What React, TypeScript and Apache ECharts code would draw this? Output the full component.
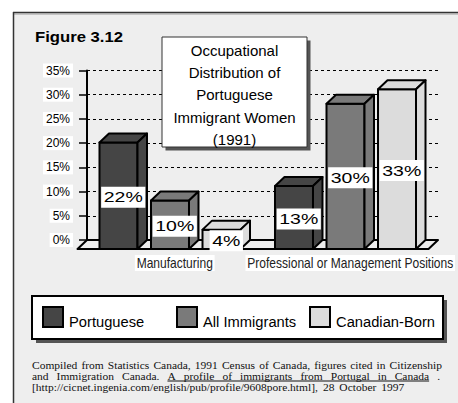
import React, { useEffect, useRef } from "react";
import * as echarts from "echarts";

const categories = ["Manufacturing", "Professional or Management Positions"];
const seriesNames = ["Portuguese", "All Immigrants", "Canadian-Born"];
const portuguese = [22, 13];
const allImmigrants = [10, 30];
const canadianBorn = [4, 33];
const seriesValues = [portuguese, allImmigrants, canadianBorn];
const seriesColors = ["#454545", "#7a7a7a", "#dcdcdc"];
const yMin = 0;
const yMax = 35;
const yStep = 5;
const figureLabel = "Figure 3.12";
const titleLines = ["Occupational", "Distribution of", "Portuguese", "Immigrant Women", "(1991)"];
const footLine1 = "Compiled from Statistics Canada, 1991 Census of Canada, figures cited in Citizenship";
const footLine2a = "and Immigration Canada.";
const footLine2b = "A profile of immigrants from Portugal in Canada";
const footLine2c = ".";
const footLine3 = "[http://cicnet.ingenia.com/english/pub/profile/9608pore.html], 28 October 1997";

const DX = 9.5;
const DY = 9;
const SERIF = '"Liberation Serif", "Times New Roman", serif';
const SANS = '"Liberation Sans", Arial, Helvetica, sans-serif';
const FOOT_SIZE = 10;
const FOOT_SCALE = 1.15;

function measure(text: string, size: number): number {
  const ns = "http://www.w3.org/2000/svg";
  const svg = document.createElementNS(ns, "svg");
  svg.setAttribute("width", "1000");
  svg.setAttribute("height", "50");
  svg.style.position = "absolute";
  svg.style.left = "0px";
  svg.style.top = "0px";
  svg.style.visibility = "hidden";
  const t = document.createElementNS(ns, "text");
  t.setAttribute("x", "0");
  t.setAttribute("y", "20");
  t.setAttribute("style", "font-family:" + SERIF + ";font-size:" + size + "px");
  t.textContent = text;
  svg.appendChild(t);
  document.body.appendChild(svg);
  let w = 0;
  try {
    w = (t as any).getComputedTextLength();
  } catch (e) {
    w = text.length * size * 0.42;
  }
  document.body.removeChild(svg);
  if (!(w > 0)) w = text.length * size * 0.42;
  return w;
}

// place words of a line justified between x0 and x1 (x1 = null keeps natural word spacing)
function justify(words: string[], x0: number, x1: number | null, y: number) {
  const widths = words.map((w) => measure(w, FOOT_SIZE) * FOOT_SCALE);
  const total = widths.reduce((a, b) => a + b, 0);
  const natural = measure(" ", FOOT_SIZE) * FOOT_SCALE;
  const gap = x1 === null || words.length < 2 ? natural : (x1 - x0 - total) / (words.length - 1);
  let x = x0;
  const els: any[] = [];
  const spans: [number, number][] = [];
  words.forEach((w, i) => {
    els.push({
      type: "text",
      z: 20,
      x,
      y,
      scaleX: FOOT_SCALE,
      style: {
        text: w,
        fontFamily: SERIF,
        fontSize: FOOT_SIZE,
        lineHeight: 10,
        fill: "#111",
        align: "left",
        verticalAlign: "middle",
      },
    });
    spans.push([x, x + widths[i]]);
    x += widths[i] + gap;
  });
  return { els, spans };
}

function barSeries(k: number) {
  return {
    type: "custom",
    name: seriesNames[k],
    z: 3,
    data: seriesValues[k].map((v, i) => [i, v]),
    encode: { x: 0, y: 1 },
    renderItem: (params: any, api: any) => {
      const cat = api.value(0);
      const v = api.value(1);
      const [cx, yv] = api.coord([cat, v]);
      const [, y0] = api.coord([cat, 0]);
      const band = api.size([1, 0])[0];
      const w = band * 0.2165;
      const step = band * 0.2935;
      const fcx = cx + (k - 1) * step - DX / 2;
      const fx = fcx - w / 2;
      const fy = yv + DY;
      const fb = y0 + DY;
      const color = seriesColors[k];
      const stroke = { fill: color, stroke: "#000", lineWidth: 2, lineJoin: "round" };
      return {
        type: "group",
        children: [
          { type: "rect", shape: { x: fx, y: fy, width: w, height: fb - fy }, style: stroke },
          {
            type: "polygon",
            shape: { points: [[fx, fy], [fx + w, fy], [fx + w + DX, fy - DY], [fx + DX, fy - DY]] },
            style: stroke,
          },
          {
            type: "polygon",
            shape: { points: [[fx + w, fy], [fx + w + DX, fy - DY], [fx + w + DX, fb - DY], [fx + w, fb]] },
            style: stroke,
          },
          {
            type: "text",
            x: fcx + DX / 2,
            y: (fy + fb) / 2 + 1.5,
            scaleX: 1.3,
            style: {
              text: v + "%",
              fontFamily: SANS,
              fontSize: 15,
              lineHeight: 15,
              fill: "#000",
              backgroundColor: "#fff",
              padding: [3, 2],
              align: "center",
              verticalAlign: "middle",
            },
          },
        ],
      };
    },
  };
}

const floorSeries = {
  type: "custom",
  name: "floor",
  z: 2,
  silent: true,
  data: [[0, 0]],
  encode: { x: 0, y: 1 },
  renderItem: (params: any) => {
    const cs = params.coordSys;
    const b = cs.y + cs.height;
    return {
      type: "polygon",
      shape: {
        points: [[cs.x, b], [cs.x + cs.width, b], [cs.x + cs.width - DX, b + DY], [cs.x - DX, b + DY]],
      },
      style: { fill: "#eeeeee", stroke: "#000", lineWidth: 2, lineJoin: "round" },
    };
  },
};

const categoryLabelSeries = {
  type: "custom",
  name: "categoryLabels",
  z: 4,
  silent: true,
  data: categories.map((c, i) => [i, 0]),
  encode: { x: 0, y: 1 },
  renderItem: (params: any, api: any) => {
    const i = api.value(0);
    const [cx, y0] = api.coord([i, 0]);
    return {
      type: "text",
      x: cx,
      y: y0 + 23,
      scaleX: 0.86,
      style: {
        text: categories[i],
        fontFamily: SANS,
        fontSize: 14,
        lineHeight: 14,
        fill: "#222",
        backgroundColor: "#fff",
        padding: [1, 2],
        align: "center",
        verticalAlign: "middle",
      },
    };
  },
};

export default function App() {
  const ref = useRef<HTMLDivElement>(null);
  useEffect(() => {
    document.body.style.margin = "0";
    if (!ref.current) return;
    const chart = echarts.init(ref.current, null, { renderer: "svg" });

    const legendX = [43, 177, 310];
    const legendItems: any[] = [];
    seriesNames.forEach((n, i) => {
      legendItems.push({
        type: "rect",
        z: 20,
        shape: { x: legendX[i], y: 307, width: 20, height: 20 },
        style: { fill: seriesColors[i], stroke: "#000", lineWidth: 2 },
      });
      legendItems.push({
        type: "text",
        z: 20,
        x: legendX[i] + 26,
        y: 321,
        scaleX: 0.95,
        style: { text: n, fontFamily: SANS, fontSize: 15.5, fill: "#000", align: "left", verticalAlign: "middle" },
      });
    });

    const titleTexts = titleLines.map((t, i) => ({
      type: "text",
      z: 21,
      x: 234.5,
      y: 50 + i * 22.4,
      style: { text: t, fontFamily: SANS, fontSize: 15, fill: "#000", align: "center", verticalAlign: "middle" },
    }));

    const line1 = justify(footLine1.split(" "), 32, 442, 364.8);
    const w2a = footLine2a.split(" ");
    const w2b = footLine2b.split(" ");
    const line2 = justify([...w2a, ...w2b, footLine2c], 32, 440, 376);
    const ulFrom = line2.spans[w2a.length][0];
    const ulTo = line2.spans[w2a.length + w2b.length - 1][1];
    const line3 = justify(footLine3.split(" "), 32, null, 387.2);

    chart.setOption({
      animation: false,
      backgroundColor: "#eeeeee",
      grid: { left: 87, right: 20, top: 70.5, bottom: 163, containLabel: false },
      xAxis: {
        type: "category",
        data: categories,
        axisLine: { show: false },
        axisTick: { show: false },
        splitLine: { show: false },
        axisLabel: { show: false },
      },
      yAxis: {
        type: "value",
        min: yMin,
        max: yMax,
        interval: yStep,
        axisLine: { show: true, lineStyle: { color: "#000", width: 2 } },
        axisTick: { show: true, length: 8, lineStyle: { color: "#000", width: 1.5 } },
        splitLine: { show: true, lineStyle: { color: "#000", width: 1, type: [3, 3] } },
        axisLabel: {
          formatter: "{value}%",
          fontFamily: SANS,
          fontSize: 12,
          color: "#000",
          backgroundColor: "#fff",
          padding: [1, 3],
          margin: 14,
        },
      },
      series: [floorSeries, barSeries(0), barSeries(1), barSeries(2), categoryLabelSeries],
      graphic: [
        { type: "rect", z: 1, shape: { x: 0, y: 0, width: 458, height: 12 }, style: { fill: "#fff" } },
        { type: "rect", z: 1, shape: { x: 0, y: 0, width: 13, height: 403 }, style: { fill: "#fff" } },
        { type: "line", z: 1, shape: { x1: 13, y1: 12.5, x2: 458, y2: 12.5 }, style: { stroke: "#333", lineWidth: 1.5 } },
        { type: "line", z: 1, shape: { x1: 14, y1: 14, x2: 458, y2: 14 }, style: { stroke: "#999", lineWidth: 1 } },
        { type: "line", z: 1, shape: { x1: 13.5, y1: 12, x2: 13.5, y2: 403 }, style: { stroke: "#333", lineWidth: 1.5 } },
        {
          type: "text",
          z: 20,
          x: 35,
          y: 37,
          scaleX: 1.15,
          style: { text: figureLabel, fontFamily: SANS, fontSize: 14.5, fontWeight: "bold", fill: "#000", align: "left", verticalAlign: "middle" },
        },
        { type: "rect", z: 19, shape: { x: 165.5, y: 40.5, width: 145, height: 110 }, style: { fill: "#555" } },
        { type: "rect", z: 20, shape: { x: 162, y: 37, width: 145, height: 110 }, style: { fill: "#fff", stroke: "#333", lineWidth: 1 } },
        ...titleTexts,
        { type: "rect", z: 19, shape: { x: 36, y: 300, width: 411, height: 43 }, style: { fill: "#555" } },
        { type: "rect", z: 19, shape: { x: 32, y: 296, width: 411, height: 43 }, style: { fill: "#fff", stroke: "#000", lineWidth: 2 } },
        ...legendItems,
        ...line1.els,
        ...line2.els,
        { type: "line", z: 20, shape: { x1: ulFrom, y1: 381, x2: ulTo, y2: 381 }, style: { stroke: "#111", lineWidth: 1 } },
        ...line3.els,
      ],
    });
    return () => chart.dispose();
  }, []);
  return <div ref={ref} style={{ width: 458, height: 403 }} />;
}
